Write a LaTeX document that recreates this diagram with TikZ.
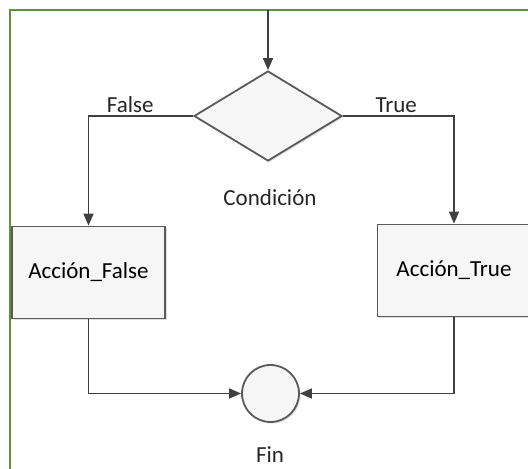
\documentclass[tikz,border=0pt]{standalone}
\usepackage{fontspec}
\setmainfont{Carlito}
\usetikzlibrary{shapes.geometric,arrows.meta,shadows}
\definecolor{frameGreen}{RGB}{97,145,58}
\definecolor{lineGray}{RGB}{64,64,64}
\definecolor{boxGray}{RGB}{90,90,90}
\begin{document}
\begin{tikzpicture}[
    x=1pt, y=1pt,
    font=\fontsize{23}{27}\selectfont,
    blk/.style={draw=boxGray, line width=1.8pt, fill=gray!7,
                minimum width=153pt, minimum height=92pt, inner sep=0pt,
                drop shadow={opacity=0.25, shadow xshift=1.5pt, shadow yshift=-1.5pt}},
    decision/.style={blk, diamond, minimum width=148pt, minimum height=90pt},
    endpoint/.style={blk, circle, minimum size=57pt},
    flow/.style={-{Triangle[length=12pt,width=10pt]}, line width=1.7pt, draw=lineGray},
    lbl/.style={inner sep=1pt, text=black!85}
]
\useasboundingbox (0,0) rectangle (528,469);
\draw[frameGreen, line width=2pt] (10,-20) |- (560,459);

\coordinate (in) at (268,459);
\node[decision] (cond) at (268,353) {};
\node[lbl] (condlbl) at (270,271) {Condición};
\node[blk] (afalse) at (88.5,196.5) {Acción\_False};
\node[blk] (atrue) at (454,198.5) {Acción\_True};
\node[endpoint] (fin) at (270.5,75.5) {};
\node[lbl] (finlbl) at (270,14) {Fin};

\draw[flow] (in) -- (cond.north);
\draw[flow] (cond.west) -| node[lbl, above, pos=0.3, yshift=1pt] {False} (afalse.north);
\draw[flow] (cond.east) -| node[lbl, above, pos=0.24, yshift=1pt] {True} (atrue.north);
\draw[flow] (afalse.south) |- (fin.west);
\draw[flow] (atrue.south) |- (fin.east);

\end{tikzpicture}
\end{document}
